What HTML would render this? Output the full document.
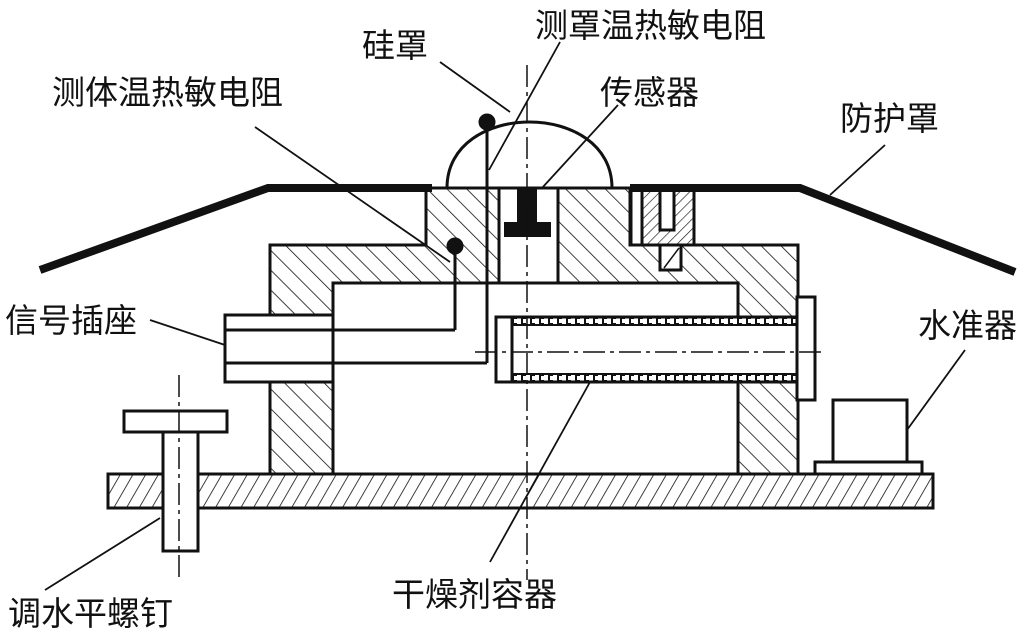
<!DOCTYPE html>
<html><head><meta charset="utf-8"><style>
html,body{margin:0;padding:0;background:#fff;}
svg{display:block;}
text{font-family:"Liberation Sans","Noto Sans CJK SC",sans-serif;font-size:33px;fill:#111;}
</style></head><body>
<svg width="1026" height="643" viewBox="0 0 1026 643" xmlns="http://www.w3.org/2000/svg">
<defs>
<pattern id="hb" patternUnits="userSpaceOnUse" width="14" height="14" patternTransform="rotate(-45)">
<rect width="14" height="14" fill="#fff"/><line x1="0" y1="0" x2="0" y2="14" stroke="#111" stroke-width="1.6"/></pattern>
<pattern id="hf" patternUnits="userSpaceOnUse" width="11" height="11" patternTransform="rotate(30)">
<rect width="11" height="11" fill="#fff"/><line x1="0" y1="0" x2="0" y2="11" stroke="#111" stroke-width="1.6"/></pattern>
<pattern id="hs" patternUnits="userSpaceOnUse" width="7" height="7" patternTransform="rotate(45)">
<rect width="7" height="7" fill="#fff"/><line x1="0" y1="0" x2="0" y2="7" stroke="#111" stroke-width="1.3"/></pattern>
</defs>
<g stroke="#111" stroke-width="3" fill="none">
<rect x="108" y="474" width="825" height="34" fill="url(#hf)"/>
<polygon points="270,245 426,245 426,188 499,188 499,283 333,283 333,474 270,474" fill="url(#hb)"/>
<polygon points="558,188 630,188 630,245 798,245 798,474 738,474 738,283 558,283" fill="url(#hb)"/>
<rect x="499" y="188" width="59" height="95" fill="#fff"/>
<rect x="631" y="188" width="63" height="57" fill="url(#hs)"/>
<rect x="631" y="188" width="11" height="57" fill="#fff"/>
<rect x="660" y="188" width="14" height="42" fill="#fff"/>
<rect x="660" y="245" width="21" height="25" fill="#fff"/>
<line x1="664" y1="268" x2="679" y2="248" stroke-width="1.5"/>
<path d="M447,188 C447,100 612,100 612,188" />
<polyline points="40,270 268,188 432,188" stroke-width="8"/>
<polyline points="630,188 800,188 1015,272" stroke-width="8"/>
<rect x="517" y="188" width="20" height="34" fill="#111" stroke="none"/>
<rect x="504" y="222" width="47" height="15" fill="#111" stroke="none"/>
<rect x="225" y="315" width="108" height="67" fill="#fff"/>
<line x1="225" y1="330" x2="455" y2="330"/>
<line x1="225" y1="363" x2="487" y2="363"/>
<line x1="455" y1="330" x2="455" y2="246"/>
<line x1="487" y1="363" x2="487" y2="122"/>
<circle cx="455" cy="246" r="7" fill="#111"/>
<circle cx="487" cy="122" r="7" fill="#111"/>
<rect x="496" y="317" width="301" height="65" fill="#fff"/>
<line x1="512" y1="317" x2="512" y2="382"/>
<line x1="512" y1="325" x2="797" y2="325" stroke-width="2"/>
<line x1="512" y1="374" x2="797" y2="374" stroke-width="2"/>
<line x1="512" y1="321" x2="797" y2="321" stroke-width="8" stroke-dasharray="5,4" stroke="#111"/>
<line x1="512" y1="378" x2="797" y2="378" stroke-width="8" stroke-dasharray="5,4" stroke="#111"/>
<line x1="512" y1="321" x2="797" y2="321" stroke-width="4" stroke-dasharray="4,5" stroke-dashoffset="-2" stroke="#fff"/>
<line x1="512" y1="378" x2="797" y2="378" stroke-width="4" stroke-dasharray="4,5" stroke-dashoffset="-2" stroke="#fff"/>
<rect x="797" y="297" width="18" height="103" fill="#fff"/>
<rect x="124" y="411" width="103" height="21" fill="#fff"/>
<rect x="163" y="432" width="35" height="119" fill="#fff"/>
<rect x="833" y="400" width="74" height="62" fill="#fff"/>
<rect x="815" y="462" width="107" height="12" fill="#fff"/>
</g>
<g stroke="#111" stroke-width="1.5" stroke-dasharray="22,5,4,5" fill="none">
<line x1="527" y1="65" x2="527" y2="580"/>
<line x1="475" y1="352" x2="822" y2="352"/>
<line x1="179" y1="375" x2="179" y2="582"/>
</g>
<g stroke="#111" stroke-width="1.8">
<line x1="440" y1="62" x2="510" y2="112"/>
<line x1="560" y1="42" x2="489" y2="170"/>
<line x1="618" y1="105" x2="542" y2="188"/>
<line x1="255" y1="127" x2="450" y2="262"/>
<line x1="885" y1="145" x2="830" y2="195"/>
<line x1="150" y1="320" x2="225" y2="345"/>
<line x1="965" y1="350" x2="907" y2="430"/>
<line x1="160" y1="518" x2="45" y2="590"/>
<line x1="590" y1="382" x2="490" y2="562"/>
</g>
<text x="362" y="57">硅罩</text>
<text x="535" y="37">测罩温热敏电阻</text>
<text x="600" y="104">传感器</text>
<text x="52" y="104">测体温热敏电阻</text>
<text x="840" y="130">防护罩</text>
<text x="5" y="332">信号插座</text>
<text x="918" y="337">水准器</text>
<text x="392" y="606">干燥剂容器</text>
<text x="8" y="625">调水平螺钉</text>
</svg>
</body></html>
